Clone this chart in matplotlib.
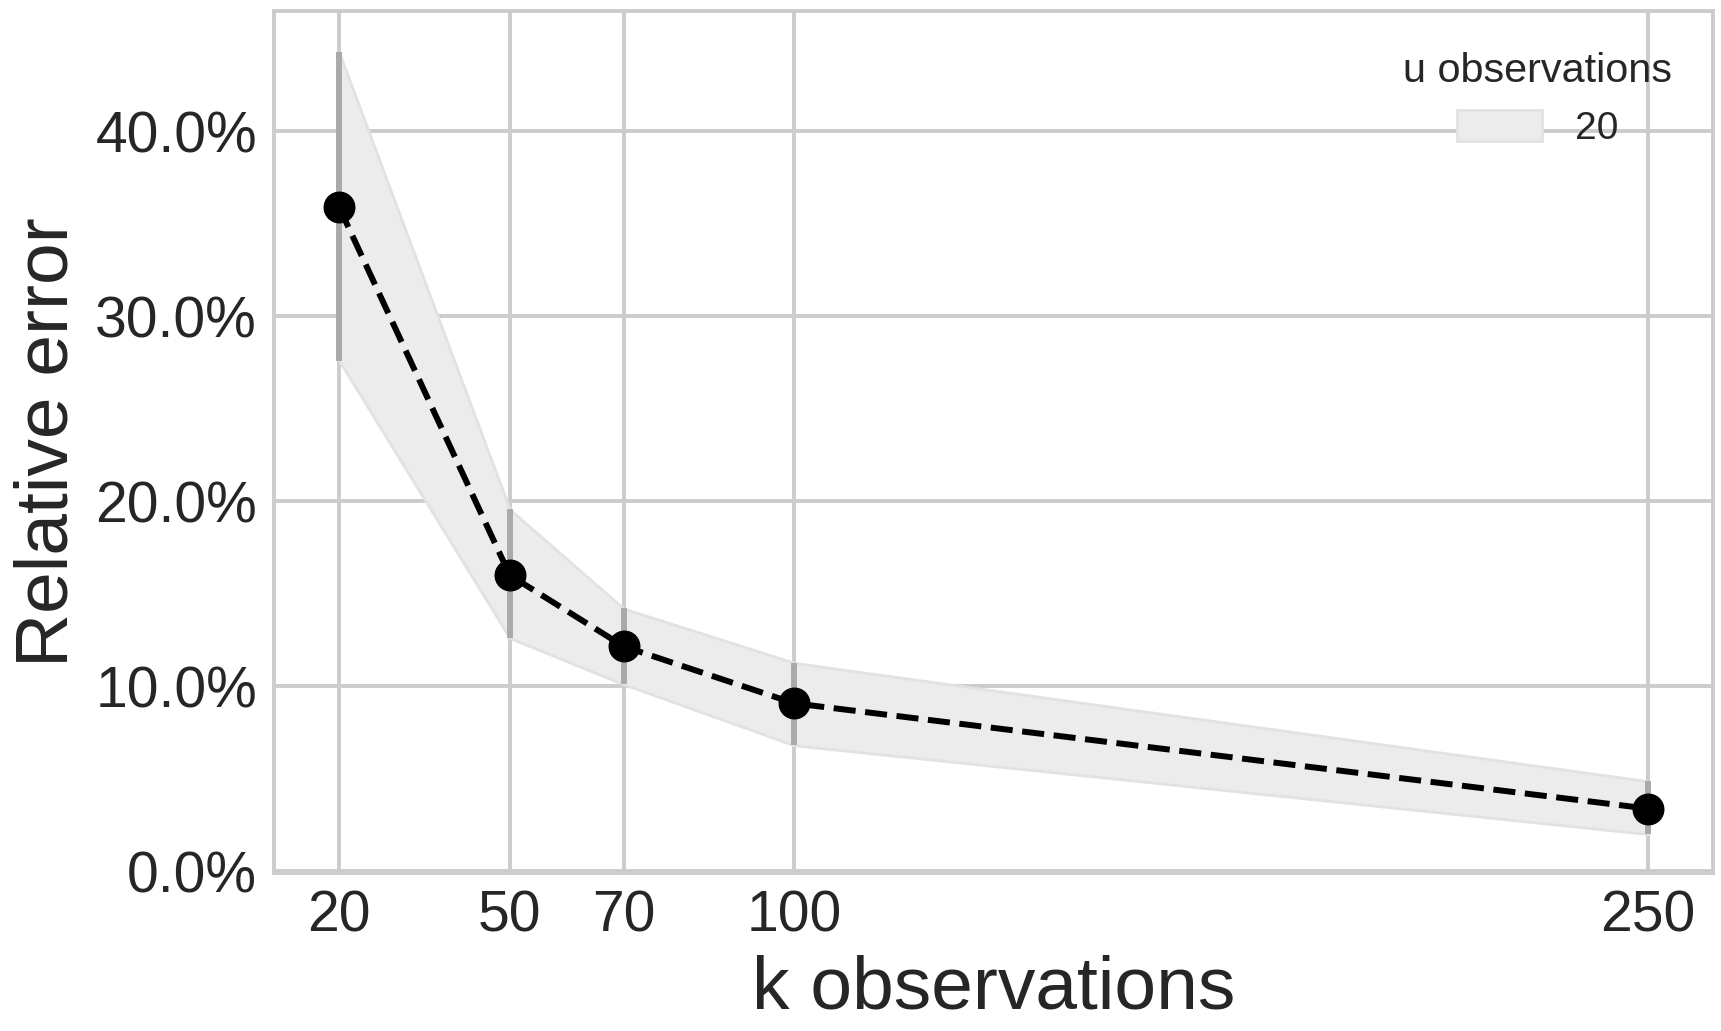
import matplotlib
matplotlib.use('Agg')
import matplotlib.pyplot as plt
from matplotlib.ticker import PercentFormatter
from matplotlib.patches import Patch

# data
k_obs = [20, 50, 70, 100, 250]
rel_err = [0.359, 0.160, 0.1215, 0.0907, 0.0338]
err_low = [0.276, 0.126, 0.101, 0.068, 0.020]
err_high = [0.4427, 0.1956, 0.142, 0.1126, 0.0486]
u_label = '20'

plt.rcParams['font.family'] = ['Liberation Sans', 'DejaVu Sans']
plt.rcParams['text.color'] = '#262626'
plt.rcParams['axes.labelcolor'] = '#262626'
plt.rcParams['xtick.color'] = '#262626'
plt.rcParams['ytick.color'] = '#262626'

fig = plt.figure(figsize=(17.21, 10.31), dpi=100)
ax = fig.add_axes([0.159, 0.1533, 0.8364, 0.8357])

#band + error bars + dashed mean line
ax.fill_between(k_obs, err_low, err_high, color='#ececec', edgecolor='#e2e2e2', linewidth=2, zorder=2)
ax.vlines(k_obs, err_low, err_high, color='#aaaaaa', linewidth=4.3, zorder=3)
ax.plot(k_obs, rel_err, color='black', linestyle='--', linewidth=4.3, marker='o', markersize=22, zorder=4)

ax.set_xticks(k_obs)
ax.set_xticklabels([str(k) for k in k_obs])
ax.yaxis.set_major_formatter(PercentFormatter(1.0, decimals=1))
ax.set_ylim(-0.001, 0.4648)
ax.set_xlim(8.5, 261.5)

ax.grid(True, color='#cccccc', linewidth=2.8, zorder=0)
ax.set_axisbelow(True)
for s in ax.spines.values():
    s.set_color('#cccccc')
    s.set_linewidth(2.8)
ax.tick_params(axis='both', labelsize=41, length=0, pad=12)

ax.set_xlabel('k observations', fontsize=54, labelpad=8)
ax.set_ylabel('Relative error', fontsize=54, labelpad=9)

handle = Patch(facecolor='#ececec', edgecolor='#e2e2e2', linewidth=2)
leg = ax.legend([handle], [u_label], title='u observations', loc='upper right',
                frameon=False, fontsize=28, title_fontsize=29.8,
                handlelength=2.2, handleheight=0.85, handletextpad=0.85,
                borderaxespad=0.65)

plt.savefig('out.png', dpi=100)
plt.close()
